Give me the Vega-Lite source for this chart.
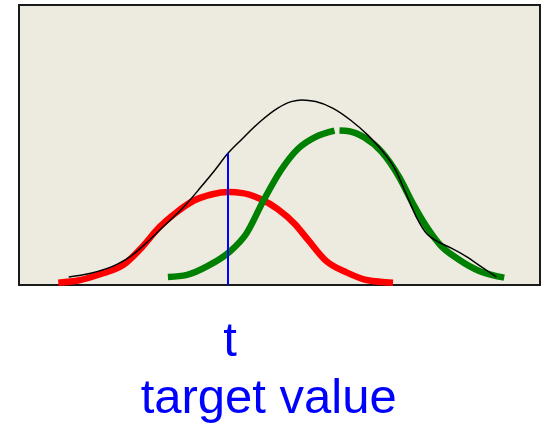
{
  "$schema": "https://vega.github.io/schema/vega-lite/v6.json",
  "width": 521,
  "height": 280,
  "autosize": {"type": "none"},
  "padding": {"left": 19, "top": 5, "right": 3, "bottom": 138},
  "background": "white",
  "view": {"fill": "#EDEBE0", "stroke": "#1a1a1a", "strokeWidth": 2},
  "datasets": {
    "curves": [
      {"series": "red", "seg": 1, "x": 39.3, "y": 2.3},
      {"series": "red", "seg": 1, "x": 60.2, "y": 4.7},
      {"series": "red", "seg": 1, "x": 81.0, "y": 10.7},
      {"series": "red", "seg": 1, "x": 105.4, "y": 20.8},
      {"series": "red", "seg": 1, "x": 122.8, "y": 37.6},
      {"series": "red", "seg": 1, "x": 140.2, "y": 57.7},
      {"series": "red", "seg": 1, "x": 157.6, "y": 72.8},
      {"series": "red", "seg": 1, "x": 175.0, "y": 84.5},
      {"series": "red", "seg": 1, "x": 192.3, "y": 90.5},
      {"series": "red", "seg": 1, "x": 209.7, "y": 92.9},
      {"series": "red", "seg": 1, "x": 223.6, "y": 91.9},
      {"series": "red", "seg": 1, "x": 241.0, "y": 86.2},
      {"series": "red", "seg": 1, "x": 258.4, "y": 76.1},
      {"series": "red", "seg": 1, "x": 275.8, "y": 61.0},
      {"series": "red", "seg": 1, "x": 289.7, "y": 44.3},
      {"series": "red", "seg": 1, "x": 307.1, "y": 24.1},
      {"series": "red", "seg": 1, "x": 328.0, "y": 12.4},
      {"series": "red", "seg": 1, "x": 348.8, "y": 4.7},
      {"series": "red", "seg": 1, "x": 374.0, "y": 2.3},
      {"series": "green", "seg": 1, "x": 148.9, "y": 8.0},
      {"series": "green", "seg": 1, "x": 168.0, "y": 10.1},
      {"series": "green", "seg": 1, "x": 188.9, "y": 19.1},
      {"series": "green", "seg": 1, "x": 209.7, "y": 32.5},
      {"series": "green", "seg": 1, "x": 227.1, "y": 51.0},
      {"series": "green", "seg": 1, "x": 244.5, "y": 84.5},
      {"series": "green", "seg": 1, "x": 261.9, "y": 114.7},
      {"series": "green", "seg": 1, "x": 279.3, "y": 136.5},
      {"series": "green", "seg": 1, "x": 296.7, "y": 148.2},
      {"series": "green", "seg": 1, "x": 315.5, "y": 154.4},
      {"series": "green", "seg": 2, "x": 320.5, "y": 154.6},
      {"series": "green", "seg": 2, "x": 330.0, "y": 153.8},
      {"series": "green", "seg": 2, "x": 345.4, "y": 147.5},
      {"series": "green", "seg": 2, "x": 362.7, "y": 133.1},
      {"series": "green", "seg": 2, "x": 380.1, "y": 108.0},
      {"series": "green", "seg": 2, "x": 394.0, "y": 81.2},
      {"series": "green", "seg": 2, "x": 408.0, "y": 57.7},
      {"series": "green", "seg": 2, "x": 421.9, "y": 39.2},
      {"series": "green", "seg": 2, "x": 439.3, "y": 25.8},
      {"series": "green", "seg": 2, "x": 460.2, "y": 14.1},
      {"series": "green", "seg": 2, "x": 485.2, "y": 7.4},
      {"series": "black", "seg": 1, "x": 49.7, "y": 8.0},
      {"series": "black", "seg": 1, "x": 70.6, "y": 11.4},
      {"series": "black", "seg": 1, "x": 98.4, "y": 20.8},
      {"series": "black", "seg": 1, "x": 112.3, "y": 29.2},
      {"series": "black", "seg": 1, "x": 129.7, "y": 44.3},
      {"series": "black", "seg": 1, "x": 147.1, "y": 61.0},
      {"series": "black", "seg": 1, "x": 164.5, "y": 77.8},
      {"series": "black", "seg": 1, "x": 181.9, "y": 97.9},
      {"series": "black", "seg": 1, "x": 195.8, "y": 114.7},
      {"series": "black", "seg": 1, "x": 208.7, "y": 131.4},
      {"series": "black", "seg": 1, "x": 223.6, "y": 146.5},
      {"series": "black", "seg": 1, "x": 241.0, "y": 163.3},
      {"series": "black", "seg": 1, "x": 258.4, "y": 176.7},
      {"series": "black", "seg": 1, "x": 272.3, "y": 183.4},
      {"series": "black", "seg": 1, "x": 282.8, "y": 185.1},
      {"series": "black", "seg": 1, "x": 296.7, "y": 183.4},
      {"series": "black", "seg": 1, "x": 314.1, "y": 176.7},
      {"series": "black", "seg": 1, "x": 331.4, "y": 165.0},
      {"series": "black", "seg": 1, "x": 348.8, "y": 149.9},
      {"series": "black", "seg": 1, "x": 362.7, "y": 134.8},
      {"series": "black", "seg": 1, "x": 376.7, "y": 114.7},
      {"series": "black", "seg": 1, "x": 387.1, "y": 91.2},
      {"series": "black", "seg": 1, "x": 397.5, "y": 67.7},
      {"series": "black", "seg": 1, "x": 408.0, "y": 51.0},
      {"series": "black", "seg": 1, "x": 418.4, "y": 43.6},
      {"series": "black", "seg": 1, "x": 432.3, "y": 36.9},
      {"series": "black", "seg": 1, "x": 446.2, "y": 29.2},
      {"series": "black", "seg": 1, "x": 463.6, "y": 17.4},
      {"series": "black", "seg": 1, "x": 477.5, "y": 8.0}
    ],
    "target": [{"x": 209, "y": 0, "y2": 132}],
    "labels": [
      {"label": "t", "x": 211, "y": -71},
      {"label": "target value", "x": 249.7, "y": -128}
    ]
  },
  "layer": [
    {
      "data": {"name": "curves"},
      "transform": [{"filter": "datum.series === 'red'"}],
      "mark": {"type": "line", "color": "#FF0000", "strokeWidth": 6.5, "interpolate": "monotone", "strokeCap": "butt"},
      "encoding": {
        "x": {"field": "x", "type": "quantitative", "scale": {"domain": [0, 521], "nice": false, "zero": false}, "axis": null},
        "y": {"field": "y", "type": "quantitative", "scale": {"domain": [0, 280], "nice": false, "zero": false}, "axis": null},
        "detail": {"field": "seg"}
      }
    },
    {
      "data": {"name": "curves"},
      "transform": [{"filter": "datum.series === 'green'"}],
      "mark": {"type": "line", "color": "#008000", "strokeWidth": 6.5, "interpolate": "monotone", "strokeCap": "butt"},
      "encoding": {
        "x": {"field": "x", "type": "quantitative"},
        "y": {"field": "y", "type": "quantitative"},
        "detail": {"field": "seg"}
      }
    },
    {
      "data": {"name": "curves"},
      "transform": [{"filter": "datum.series === 'black'"}],
      "mark": {"type": "line", "color": "#000000", "strokeWidth": 1.5, "interpolate": "monotone"},
      "encoding": {
        "x": {"field": "x", "type": "quantitative"},
        "y": {"field": "y", "type": "quantitative"}
      }
    },
    {
      "data": {"name": "target"},
      "mark": {"type": "rule", "color": "#0000FF", "strokeWidth": 2},
      "encoding": {
        "x": {"field": "x", "type": "quantitative"},
        "y": {"field": "y", "type": "quantitative"},
        "y2": {"field": "y2"}
      }
    },
    {
      "data": {"name": "labels"},
      "mark": {"type": "text", "color": "#0000FF", "font": "Liberation Sans", "fontSize": 49, "align": "center", "baseline": "alphabetic", "clip": false},
      "encoding": {
        "x": {"field": "x", "type": "quantitative"},
        "y": {"field": "y", "type": "quantitative"},
        "text": {"field": "label"}
      }
    }
  ]
}
